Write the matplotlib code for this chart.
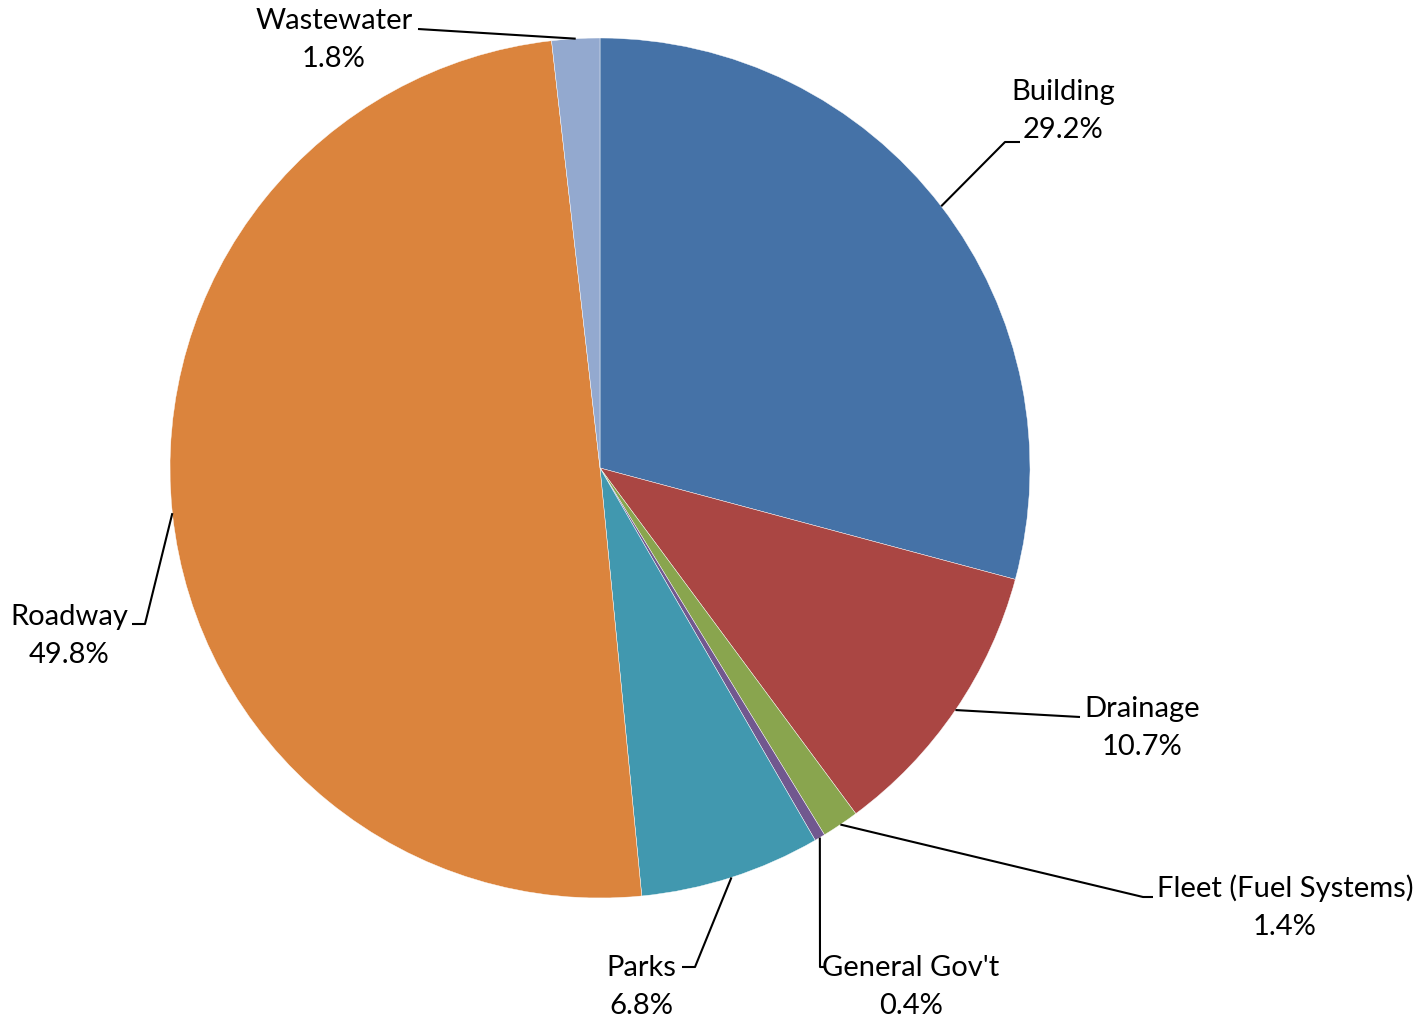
import numpy as np
import matplotlib
matplotlib.use('Agg')
import matplotlib.pyplot as plt

# capital spending share by program
categories = ['Building', 'Drainage', 'Fleet (Fuel Systems)', "General Gov't",
              'Parks', 'Roadway', 'Wastewater']
shares = [29.2, 10.7, 1.4, 0.4, 6.8, 49.8, 1.8]
colors = ['#4572A7', '#AA4643', '#89A54E', '#71588F', '#4198AF', '#DB843D',
          '#93A9CF']

W, H = 1426, 1020
cx, cy, r = 600, H - 469, 430

# label text centre and leader elbow (pixels from top-left), tick direction
label_pos = {
    'Building': ((1063, 111), (1005, 143), 15),
    'Drainage': ((1142, 728), (1080, 718), 0),
    'Fleet (Fuel Systems)': ((1285, 907), (1143, 898), 10),
    "General Gov't": ((911, 987), (820, 968), 5),
    'Parks': ((641, 987), (695, 968), -13),
    'Roadway': ((69, 636), (145, 625), -13),
    'Wastewater': ((334, 40), (418, 30), 0),
}

plt.rcParams['font.family'] = ['Lato', 'DejaVu Sans']

fig = plt.figure(figsize=(W / 100, H / 100), dpi=100)
ax = fig.add_axes([0, 0, 1, 1])

wedges, _ = ax.pie(shares, colors=colors, startangle=90, counterclock=False,
                   center=(cx, cy), radius=r,
                   wedgeprops=dict(edgecolor='white', linewidth=0.3))

ax.set_xlim(0, W)
ax.set_ylim(0, H)
ax.set_aspect('equal')
ax.axis('off')

for w, name, val in zip(wedges, categories, shares):
    mid = np.deg2rad((w.theta1 + w.theta2) / 2)
    px = cx + r * np.cos(mid)
    py = cy + r * np.sin(mid)
    (tx, ty), (ex, ey), tick = label_pos[name]
    ey = H - ey
    ax.plot([px, ex, ex + tick], [py, ey, ey], color='black', lw=1.5,
            solid_capstyle='butt')
    ax.text(tx, H - ty, f'{name}\n{val:.1f}%', ha='center', va='center',
            fontsize=21, linespacing=1.55, color='black')

fig.savefig('out.png', dpi=100)
